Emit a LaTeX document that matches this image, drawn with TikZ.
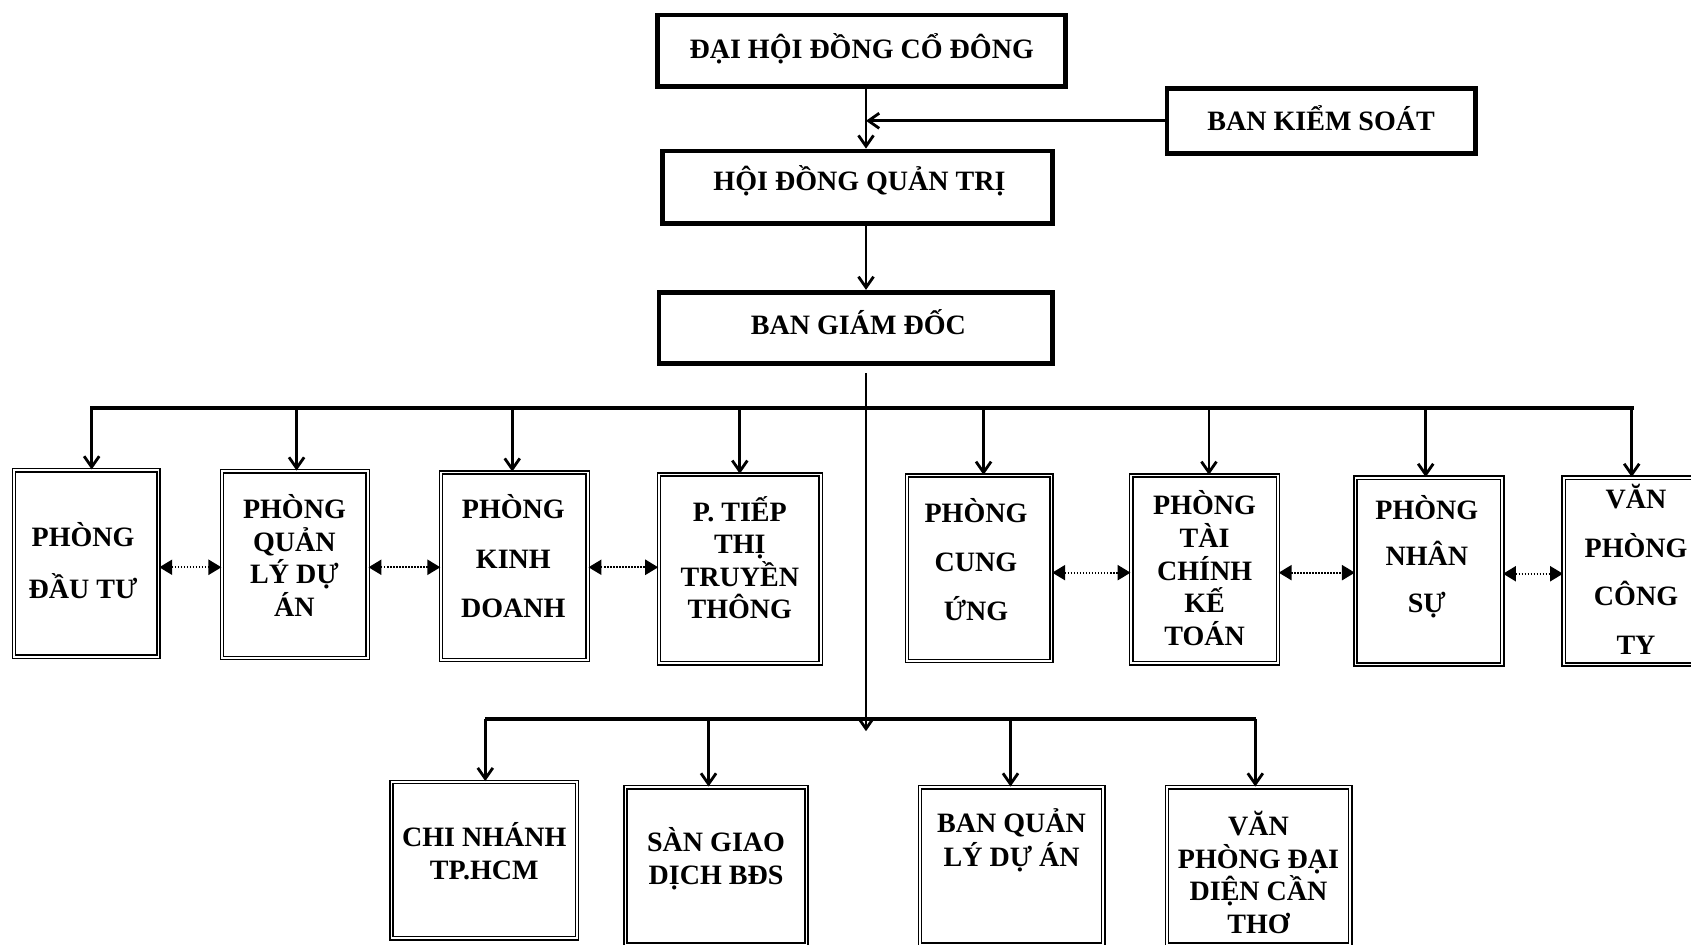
\documentclass[tikz,border=0pt]{standalone}
\usepackage{fontspec}
\setmainfont{Liberation Serif}
\usetikzlibrary{arrows.meta}
\newcommand\fsz[1]{\fontsize{26}{#1}\selectfont\bfseries}
\begin{document}
\begin{tikzpicture}[x=1pt,y=-1pt,
  topbox/.style={draw, line width=4.4pt, inner sep=0pt},
  dbox/.style={draw, double, double distance=1.5pt, line width=1.4pt, inner sep=0pt},
  lbl/.style={align=center, inner sep=0pt},
  conn/.style={line width=2.6pt, -{Straight Barb[length=10pt,width=14pt]}},
  bus/.style={line width=3.6pt},
  dots/.style={line width=1.8pt, dash pattern=on 1.4pt off 1.4pt,
     {Triangle[length=12pt,width=14pt]}-{Triangle[length=12pt,width=14pt]}}]
\useasboundingbox (0,0) rectangle (1568,876.2);
\fill[white] (0,0) rectangle (1568,876.2);

% top boxes
\node[topbox, minimum width=378pt, minimum height=66pt] (dh) at (799,47) {};
\node[lbl, font=\fsz{30}] (tdh) at (799,45) {ĐẠI HỘI ĐỒNG CỔ ĐÔNG};
\node[topbox, minimum width=286pt, minimum height=60pt] (bks) at (1225,112) {};
\node[lbl, font=\fsz{30}] (tbks) at (1225,110) {BAN KIỂM SOÁT};
\node[topbox, minimum width=362pt, minimum height=67pt] (hd) at (795,173.5) {};
\node[lbl, font=\fsz{30}] (thd) at (797,168) {HỘI ĐỒNG QUẢN TRỊ};
\node[topbox, minimum width=365pt, minimum height=66pt] (bgd) at (793.5,304) {};
\node[lbl, font=\fsz{30}] (tbgd) at (796,299) {BAN GIÁM ĐỐC};

% department row
\node[dbox, minimum width=134pt, minimum height=173pt] (d1) at (80,522.5) {};
\node[lbl, font=\fsz{48}] (t1) at (77,520) {PHÒNG\\ĐẦU TƯ};
\node[dbox, minimum width=135pt, minimum height=173pt] (d2) at (273.5,523.5) {};
\node[lbl, font=\fsz{30.3}] (t2) at (273,515) {PHÒNG\\QUẢN\\LÝ DỰ\\ÁN};
\node[dbox, minimum width=136pt, minimum height=174pt] (d3) at (477,525) {};
\node[lbl, font=\fsz{46}] (t3) at (476,516) {PHÒNG\\KINH\\DOANH};
\node[dbox, minimum width=150pt, minimum height=175pt] (d4) at (686,527.5) {};
\node[lbl, font=\fsz{30}] (t4) at (686,517) {P. TIẾP\\THỊ\\TRUYỀN\\THÔNG};
\node[dbox, minimum width=134pt, minimum height=172pt] (d5) at (908,527) {};
\node[lbl, font=\fsz{45.5}] (t5) at (905,519) {PHÒNG\\CUNG\\ỨNG};
\node[dbox, minimum width=136pt, minimum height=174pt] (d6) at (1117,528) {};
\node[lbl, font=\fsz{30.25}] (t6) at (1117,527) {PHÒNG\\TÀI\\CHÍNH\\KẾ\\TOÁN};
\node[dbox, minimum width=136pt, minimum height=173pt] (d7) at (1325,529.5) {};
\node[lbl, font=\fsz{43}] (t7) at (1323,516) {PHÒNG\\NHÂN\\SỰ};
\node[dbox, minimum width=136pt, minimum height=173pt] (d8) at (1518,529.5) {};
\node[lbl, font=\fsz{45}] (t8) at (1517,528) {VĂN\\PHÒNG\\CÔNG\\TY};

% branch row
\node[dbox, minimum width=172pt, minimum height=145pt] (b1) at (449,797.5) {};
\node[lbl, font=\fsz{31}] (tb1) at (449,789) {CHI NHÁNH\\TP.HCM};
\node[dbox, minimum width=168pt, minimum height=146pt] (b2) at (664,803) {};
\node[lbl, font=\fsz{31}] (tb2) at (664,796) {SÀN GIAO\\DỊCH BĐS};
\node[dbox, minimum width=170pt, minimum height=146pt] (b3) at (938,803) {};
\node[lbl, font=\fsz{31}] (tb3) at (938,779) {BAN QUẢN\\LÝ DỰ ÁN};
\node[dbox, minimum width=170pt, minimum height=146pt] (b4) at (1167,803) {};
\node[lbl, font=\fsz{30}] (tb4) at (1167,809) {VĂN\\PHÒNG ĐẠI\\DIỆN CẦN\\THƠ};

% helper coordinates
\coordinate (jx) at (803,0);
\coordinate (busL) at (85,378);
\coordinate (busR) at (1513,378);
\coordinate (bstart) at (803,346);
\coordinate (bend) at (803,678);
\coordinate (bbL) at (450,667);
\coordinate (bbR) at (1165,667);

% top connectors
\draw[conn] (dh.south -| jx) -- (hd.north -| jx);
\draw[conn] (bks.west) -- (bks.west -| jx);
\draw[conn] (hd.south -| jx) -- (bgd.north -| jx);

% main vertical and buses
\draw[conn] (bstart) -- (bend);
\draw[bus, line cap=rect] (busL) -- (busR);
\draw[bus] (bbL) -- (bbR);

% drops to departments
\foreach \n/\x in {d1/85,d2/275,d3/475,d4/686,d5/912,d6/1121,d7/1322,d8/1513}{
  \draw[conn] (\x,378) -- (\n.north -| \x,0);
}
% drops to branches
\foreach \n/\x in {b1/450,b2/657,b3/937,b4/1164}{
  \draw[conn] (\x,667) -- (\n.north -| \x,0);
}

% dotted links
\draw[dots] (d1.east |- 0,526) -- (d2.west |- 0,526);
\draw[dots] (d2.east |- 0,526) -- (d3.west |- 0,526);
\draw[dots] (d3.east |- 0,526) -- (d4.west |- 0,526);
\draw[dots] (d5.east |- 0,531) -- (d6.west |- 0,531);
\draw[dots] (d6.east |- 0,531) -- (d7.west |- 0,531);
\draw[dots] (d7.east |- 0,532) -- (d8.west |- 0,532);
\end{tikzpicture}
\end{document}
